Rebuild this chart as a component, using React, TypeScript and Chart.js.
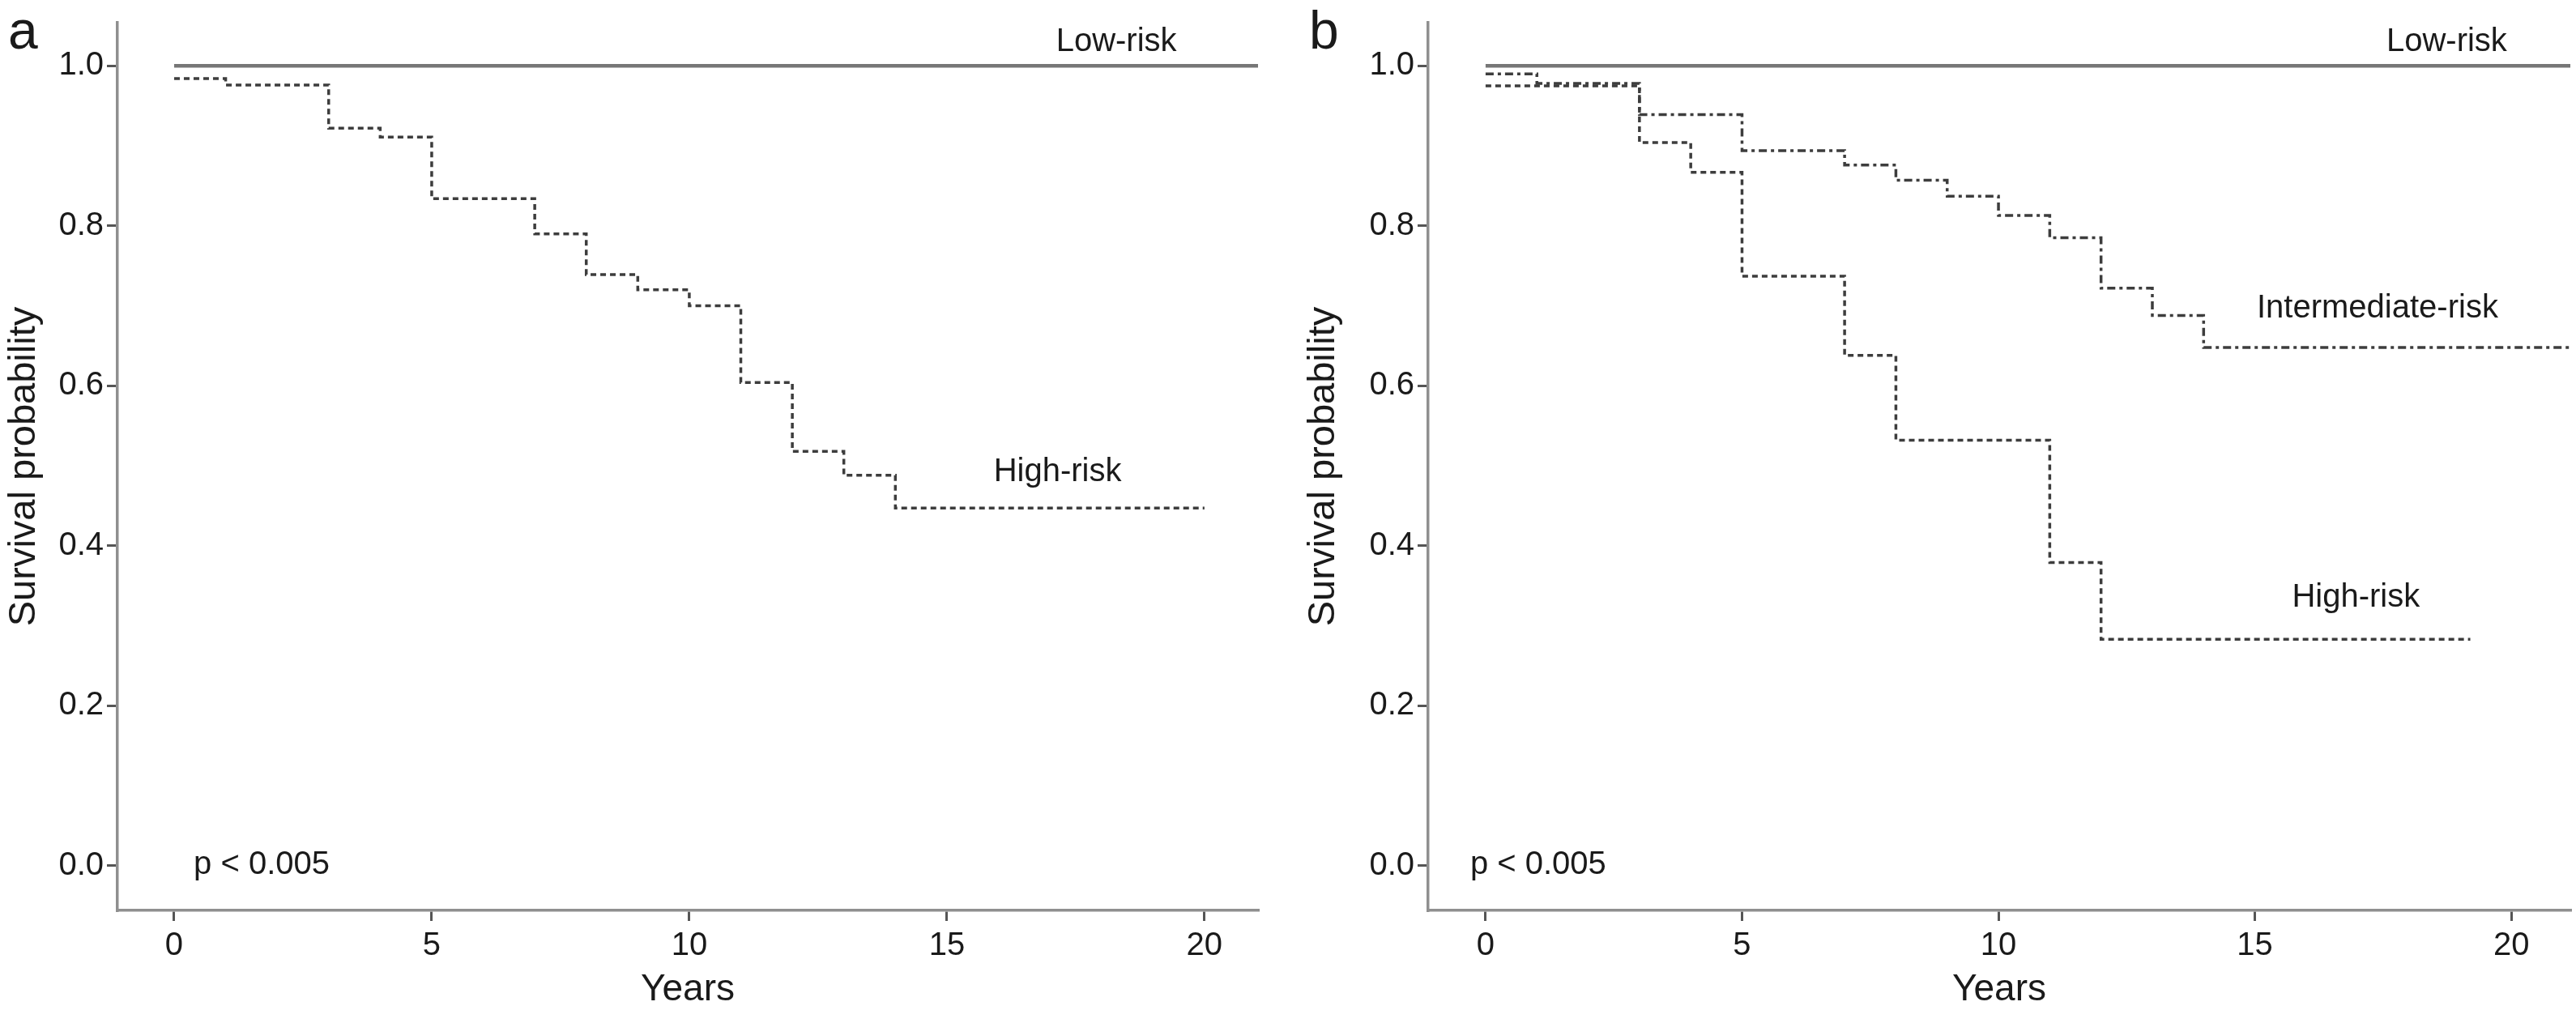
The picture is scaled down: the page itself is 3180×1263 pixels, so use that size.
import React, { useEffect, useRef } from 'react';
import { Chart, registerables } from 'chart.js';

Chart.register(...registerables);

const FONT = "'Liberation Sans', Arial, Helvetica, sans-serif";
const TEXT_COLOR = '#1a1a1a';

// Axis ticks (shared)
const yTickValues = [0, 0.2, 0.4, 0.6, 0.8, 1.0];
const xTickValues = [0, 5, 10, 15, 20];

// ---------- Panel a ----------
const aLowTimes = [0, 21.04];
const aLowValues = [1, 1];
const aHighTimes = [0, 1, 3, 4, 5, 7, 8, 9, 10, 11, 12, 13, 14, 20];
const aHighValues = [0.984, 0.976, 0.922, 0.911, 0.834, 0.79, 0.739, 0.72, 0.7, 0.604, 0.518, 0.488, 0.447, 0.447];
const aLabelTexts = ['Low-risk', 'High-risk', 'p < 0.005'];
const aLabelX = [18.29, 17.15, 0.38];
const aLabelY = [1.019, 0.481, -0.01];
const aLabelAlign = ['center', 'center', 'left'];

// ---------- Panel b ----------
const bLowTimes = [0, 21.15];
const bLowValues = [1, 1];
const bInterTimes = [0, 1, 3, 5, 7, 8, 9, 10, 11, 12, 13, 14, 21.15];
const bInterValues = [0.99, 0.978, 0.939, 0.894, 0.876, 0.857, 0.837, 0.813, 0.785, 0.722, 0.688, 0.648, 0.648];
const bHighTimes = [0, 3, 4, 5, 7, 8, 11, 12, 19.2];
const bHighValues = [0.975, 0.904, 0.867, 0.737, 0.638, 0.532, 0.379, 0.283, 0.283];
const bLabelTexts = ['Low-risk', 'Intermediate-risk', 'High-risk', 'p < 0.005'];
const bLabelX = [18.74, 17.39, 16.97, -0.3];
const bLabelY = [1.019, 0.685, 0.324, -0.01];
const bLabelAlign = ['center', 'center', 'center', 'left'];

const toPoints = (t: number[], v: number[]) => t.map((x, i) => ({ x, y: v[i] }));

const LOW_STYLE = { borderColor: '#767676', borderWidth: 4.5, borderDash: [] as number[] };
const HIGH_STYLE = { borderColor: '#3d3d3d', borderWidth: 3.5, borderDash: [7, 5] };
const INTER_STYLE = { borderColor: '#3d3d3d', borderWidth: 3.5, borderDash: [10, 5, 4, 5] };

type PanelProps = {
  left: number;
  width: number;
  height: number;
  letter: string;
  letterX: number;
  yAxisWidth: number;
  padRight: number;
  yTitlePad: number;
  xMin: number;
  xMax: number;
  datasets: any[];
  labelTexts: string[];
  labelX: number[];
  labelY: number[];
  labelAlign: string[];
};

function Panel(props: PanelProps) {
  const ref = useRef<HTMLCanvasElement | null>(null);

  useEffect(() => {
    if (!ref.current) return;
    const textPlugin = {
      id: 'kmText',
      afterDraw(chart: any) {
        const ctx = chart.ctx;
        const xs = chart.scales.x;
        const ys = chart.scales.y;
        ctx.save();
        ctx.fillStyle = TEXT_COLOR;
        ctx.textBaseline = 'alphabetic';
        ctx.font = `40px ${FONT}`;
        props.labelTexts.forEach((t, i) => {
          ctx.textAlign = props.labelAlign[i] as CanvasTextAlign;
          ctx.fillText(t, xs.getPixelForValue(props.labelX[i]), ys.getPixelForValue(props.labelY[i]));
        });
        ctx.font = `66px ${FONT}`;
        ctx.textAlign = 'left';
        ctx.fillText(props.letter, props.letterX, 60);
        ctx.restore();
      },
    };

    const chart = new Chart(ref.current, {
      type: 'line',
      data: { datasets: props.datasets },
      options: {
        animation: false,
        responsive: false,
        maintainAspectRatio: false,
        devicePixelRatio: 1,
        layout: { padding: { left: 0, right: props.padRight, top: 12, bottom: 0 } },
        plugins: { legend: { display: false }, tooltip: { enabled: false } },
        elements: { point: { radius: 0 }, line: { tension: 0 } },
        scales: {
          x: {
            type: 'linear',
            min: props.xMin,
            max: props.xMax,
            afterBuildTicks: (scale: any) => {
              scale.ticks = xTickValues.map((v) => ({ value: v }));
            },
            afterFit: (scale: any) => {
              scale.height = props.height - 1124;
            },
            grid: { display: true, drawOnChartArea: false, drawTicks: true, tickLength: 13, color: '#555', lineWidth: 3 },
            border: { display: true, color: '#8f8f8f', width: 3.5 },
            ticks: {
              color: TEXT_COLOR,
              font: { size: 40, family: FONT },
              padding: 7,
              maxRotation: 0,
              autoSkip: false,
              callback: (v: any) => String(v),
            },
            title: {
              display: true,
              text: 'Years',
              color: TEXT_COLOR,
              font: { size: 46, family: FONT },
              padding: { top: 0, bottom: 13 },
            },
          },
          y: {
            type: 'linear',
            min: -0.056,
            max: 1.054,
            afterBuildTicks: (scale: any) => {
              scale.ticks = yTickValues.map((v) => ({ value: v }));
            },
            afterFit: (scale: any) => {
              scale.width = props.yAxisWidth;
            },
            grid: { display: true, drawOnChartArea: false, drawTicks: true, tickLength: 13, color: '#555', lineWidth: 3 },
            border: { display: true, color: '#8f8f8f', width: 3.5 },
            ticks: {
              color: TEXT_COLOR,
              font: { size: 40, family: FONT },
              padding: 4,
              autoSkip: false,
              callback: (v: any) => Number(v).toFixed(1),
            },
            title: {
              display: true,
              text: 'Survival probability',
              color: TEXT_COLOR,
              font: { size: 47, family: FONT },
              padding: { top: props.yTitlePad, bottom: 0 },
            },
          },
        },
      } as any,
      plugins: [textPlugin],
    });
    return () => chart.destroy();
  }, []);

  return (
    <canvas
      ref={ref}
      width={props.width}
      height={props.height}
      style={{ position: 'absolute', left: props.left, top: 0, width: props.width, height: props.height }}
    />
  );
}

export default function App() {
  const W = 1590;
  const H = 1263;
  const aSets = [
    { label: 'Low-risk', data: toPoints(aLowTimes, aLowValues), stepped: 'before', ...LOW_STYLE },
    { label: 'High-risk', data: toPoints(aHighTimes, aHighValues), stepped: 'before', ...HIGH_STYLE },
  ];
  const bSets = [
    { label: 'Low-risk', data: toPoints(bLowTimes, bLowValues), stepped: 'before', ...LOW_STYLE },
    { label: 'Intermediate-risk', data: toPoints(bInterTimes, bInterValues), stepped: 'before', ...INTER_STYLE },
    { label: 'High-risk', data: toPoints(bHighTimes, bHighValues), stepped: 'before', ...HIGH_STYLE },
  ];
  return (
    <div style={{ position: 'absolute', left: 0, top: 0, width: 3180, height: H, background: '#fff', overflow: 'hidden' }}>
      <Panel
        left={0}
        width={W}
        height={H}
        letter="a"
        letterX={10}
        yAxisWidth={145}
        padRight={37}
        yTitlePad={2}
        xMin={-1.1}
        xMax={21.04}
        datasets={aSets}
        labelTexts={aLabelTexts}
        labelX={aLabelX}
        labelY={aLabelY}
        labelAlign={aLabelAlign}
      />
      <Panel
        left={W}
        width={W}
        height={H}
        letter="b"
        letterX={26}
        yAxisWidth={173}
        padRight={7}
        yTitlePad={16}
        xMin={-1.12}
        xMax={21.15}
        datasets={bSets}
        labelTexts={bLabelTexts}
        labelX={bLabelX}
        labelY={bLabelY}
        labelAlign={bLabelAlign}
      />
    </div>
  );
}
